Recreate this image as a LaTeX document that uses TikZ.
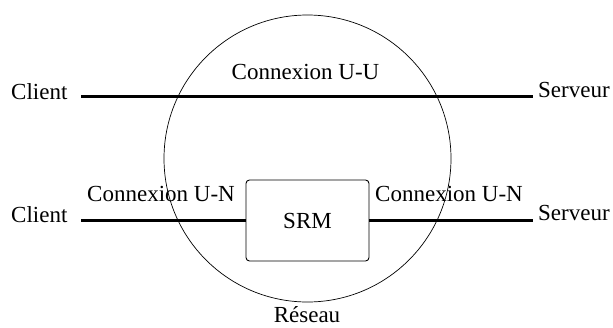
\documentclass[tikz,border=0pt]{standalone}
\usepackage{fontspec}
\setmainfont{Liberation Serif}
\begin{document}
\begin{tikzpicture}[x=1pt,y=-1pt,
  lbl/.style={inner sep=0pt,font=\fontsize{23}{27}\selectfont},
  wire/.style={line width=2.4pt},
  srmbox/.style={draw,line width=0.9pt,rounded corners=3.5pt,minimum width=123pt,minimum height=81pt,inner sep=0pt,font=\fontsize{23}{27}\selectfont}]
\useasboundingbox (0,0) rectangle (613,327);
% network cloud
\node[draw,circle,line width=0.7pt,minimum size=287pt,inner sep=0pt] (net) at (307.5,158.5) {};
% labels
\node[lbl,anchor=base west] (c1) at (11,99) {Client};
\node[lbl,anchor=base west] (s1) at (538,97.5) {Serveur};
\node[lbl,anchor=base west] (c2) at (11,222) {Client};
\node[lbl,anchor=base west] (s2) at (538,220) {Serveur};
\node[lbl,anchor=base] (uu) at (305.5,79) {Connexion U-U};
\node[lbl,anchor=base west] (un1) at (87,201.7) {Connexion U-N};
\node[lbl,anchor=base west] (un2) at (375,201.7) {Connexion U-N};
\node[lbl,anchor=base] (res) at (307,322.5) {Réseau};
% SRM
\node[srmbox] (srm) at (307.5,220.5) {SRM};
% wires
\coordinate (a1) at (81,96.5);
\coordinate (b1) at (533,96.5);
\coordinate (a2) at (81,220.5);
\coordinate (b2) at (533,220.5);
\draw[wire] (a1) -- (b1);
\draw[wire] (a2) -- (srm.west);
\draw[wire] (srm.east) -- (b2);
\end{tikzpicture}
\end{document}
